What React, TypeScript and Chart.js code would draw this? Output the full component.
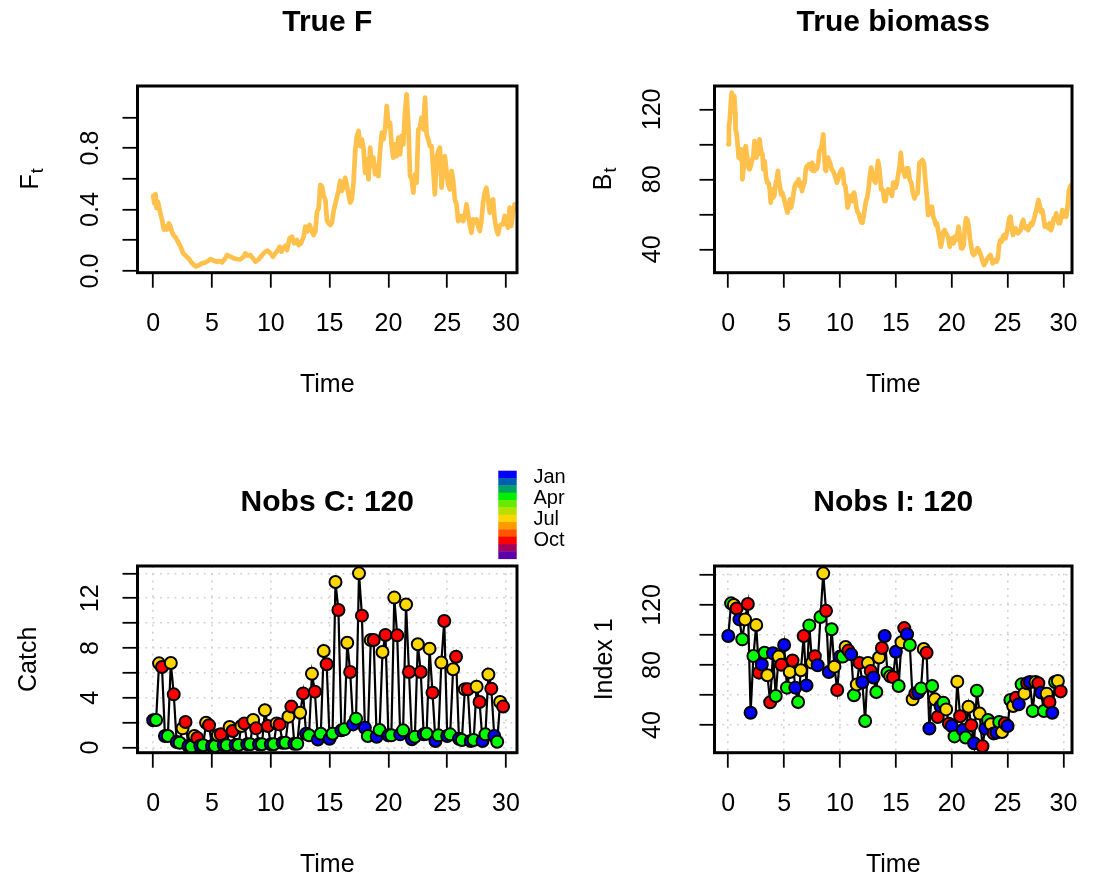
import React, { useEffect, useRef } from "react";
import { Chart, registerables } from "chart.js";

Chart.register(...registerables);

const FONT = "'Liberation Sans', Arial, Helvetica, sans-serif";

// ---------- True F (time, value) ----------
const fTime = [
  0.0, 0.1, 0.2, 0.28, 0.4, 0.57, 0.76, 0.91, 1.05, 1.19, 1.33, 1.47, 1.61, 1.75, 1.9, 2.04, 2.18, 2.32, 2.55, 2.75,
  3.03, 3.31, 3.59, 3.88, 4.16, 4.44, 4.67, 4.87, 5.15, 5.43, 5.66, 5.86, 6.09, 6.28, 6.57, 6.85, 7.13, 7.41, 7.7, 7.84,
  8.04, 8.26, 8.49, 8.69, 8.97, 9.26, 9.54, 9.74, 9.96, 10.19, 10.39, 10.61, 10.76, 10.9, 11.04, 11.24, 11.38, 11.6, 11.8, 12.0,
  12.23, 12.37, 12.57, 12.79, 12.94, 13.08, 13.3, 13.5, 13.64, 13.78, 13.93, 14.07, 14.21, 14.35, 14.5, 14.65, 14.77, 14.92, 15.06, 15.2,
  15.34, 15.48, 15.62, 15.76, 15.9, 16.05, 16.19, 16.33, 16.47, 16.61, 16.75, 16.89, 17.03, 17.18, 17.32, 17.46, 17.6, 17.74, 17.88, 18.02,
  18.16, 18.31, 18.45, 18.59, 18.73, 18.87, 19.01, 19.15, 19.29, 19.44, 19.58, 19.72, 19.86, 20.0, 20.14, 20.28, 20.42, 20.56, 20.71, 20.85,
  20.99, 21.13, 21.27, 21.41, 21.55, 21.69, 21.84, 21.98, 22.12, 22.26, 22.4, 22.54, 22.68, 22.82, 22.97, 23.11, 23.25, 23.39, 23.53, 23.67,
  23.81, 23.95, 24.1, 24.24, 24.38, 24.52, 24.66, 24.8, 24.94, 25.08, 25.23, 25.37, 25.51, 25.65, 25.79, 25.93, 26.07, 26.21, 26.36, 26.5,
  26.64, 26.78, 26.92, 27.06, 27.2, 27.34, 27.49, 27.63, 27.77, 27.91, 28.05, 28.19, 28.33, 28.47, 28.62, 28.76, 28.9, 29.04, 29.18, 29.32,
  29.46, 29.6, 29.75, 29.89, 30.03, 30.17, 30.31, 30.45, 30.59, 30.73,
];
const fValue = [
  0.49, 0.44, 0.5, 0.41, 0.45, 0.39, 0.33, 0.27, 0.29, 0.27, 0.31, 0.29, 0.25, 0.23, 0.22, 0.2, 0.18, 0.16, 0.115, 0.1,
  0.08, 0.05, 0.03, 0.037, 0.05, 0.056, 0.065, 0.078, 0.067, 0.061, 0.065, 0.056, 0.078, 0.104, 0.093, 0.082, 0.078, 0.076, 0.093, 0.115,
  0.1, 0.104, 0.082, 0.061, 0.076, 0.104, 0.126, 0.132, 0.115, 0.093, 0.115, 0.137, 0.158, 0.126, 0.147, 0.165, 0.137, 0.213, 0.223, 0.18,
  0.202, 0.169, 0.18, 0.223, 0.289, 0.256, 0.3, 0.256, 0.234, 0.256, 0.386, 0.408, 0.56, 0.55, 0.49, 0.46, 0.33, 0.31, 0.3, 0.315,
  0.39, 0.434, 0.48, 0.521, 0.586, 0.521, 0.564, 0.607, 0.553, 0.499, 0.445, 0.466, 0.575, 0.781, 0.879, 0.911, 0.813, 0.857, 0.803, 0.64,
  0.727, 0.597, 0.803, 0.683, 0.738, 0.629, 0.683, 0.618, 0.781, 0.9, 0.857, 0.922, 1.074, 0.944, 0.965, 0.813, 0.738, 0.824, 0.748, 0.868,
  0.759, 0.879, 0.824, 1.03, 1.15, 0.965, 0.618, 0.597, 0.51, 0.629, 0.575, 0.922, 0.933, 0.998, 0.922, 1.128, 0.889, 0.857, 0.813, 0.813,
  0.662, 0.499, 0.738, 0.781, 0.803, 0.542, 0.662, 0.748, 0.651, 0.564, 0.531, 0.651, 0.586, 0.466, 0.434, 0.325, 0.336, 0.358, 0.325, 0.358,
  0.434, 0.369, 0.304, 0.249, 0.336, 0.315, 0.336, 0.293, 0.26, 0.325, 0.445, 0.51, 0.542, 0.466, 0.38, 0.456, 0.466, 0.336, 0.271, 0.239,
  0.293, 0.304, 0.304, 0.358, 0.315, 0.282, 0.412, 0.293, 0.38, 0.434,
];

// ---------- True biomass (time, value) ----------
const bTime = [
  0.0, 0.06, 0.14, 0.23, 0.31, 0.4, 0.48, 0.54, 0.62, 0.65, 0.76, 0.85, 0.93, 1.05, 1.13, 1.22, 1.27, 1.39, 1.47, 1.56,
  1.64, 1.73, 1.81, 1.9, 2.01, 2.12, 2.24, 2.35, 2.44, 2.52, 2.61, 2.69, 2.8, 2.89, 2.97, 3.06, 3.14, 3.26, 3.37, 3.48,
  3.6, 3.71, 3.8, 3.91, 3.99, 4.11, 4.22, 4.33, 4.45, 4.53, 4.62, 4.73, 4.84, 4.96, 5.07, 5.18, 5.3, 5.41, 5.52, 5.61,
  5.72, 5.81, 5.95, 6.09, 6.18, 6.29, 6.37, 6.49, 6.6, 6.71, 6.83, 6.94, 7.03, 7.11, 7.22, 7.34, 7.42, 7.51, 7.59, 7.71,
  7.79, 7.88, 7.96, 8.05, 8.16, 8.27, 8.39, 8.5, 8.58, 8.67, 8.75, 8.84, 8.92, 9.04, 9.15, 9.26, 9.38, 9.49, 9.6, 9.72,
  9.83, 9.94, 10.06, 10.17, 10.28, 10.37, 10.48, 10.57, 10.68, 10.76, 10.85, 10.93, 11.02, 11.1, 11.19, 11.27, 11.39, 11.47, 11.59, 11.7,
  11.81, 11.93, 12.01, 12.1, 12.21, 12.32, 12.44, 12.55, 12.66, 12.78, 12.89, 12.97, 13.09, 13.17, 13.29, 13.4, 13.51, 13.6, 13.68, 13.8,
  13.88, 13.97, 14.08, 14.19, 14.31, 14.42, 14.53, 14.65, 14.76, 14.87, 14.99, 15.1, 15.21, 15.33, 15.44, 15.57, 15.68, 15.82, 15.96, 16.1,
  16.25, 16.39, 16.53, 16.67, 16.81, 16.95, 17.1, 17.24, 17.38, 17.52, 17.66, 17.78, 17.89, 18.0, 18.12, 18.23, 18.34, 18.46, 18.57, 18.68,
  18.8, 18.91, 19.02, 19.14, 19.25, 19.36, 19.48, 19.59, 19.7, 19.82, 19.93, 20.05, 20.16, 20.27, 20.38, 20.5, 20.61, 20.73, 20.84, 20.95,
  21.07, 21.18, 21.29, 21.41, 21.52, 21.63, 21.75, 21.86, 21.97, 22.09, 22.2, 22.31, 22.43, 22.54, 22.65, 22.77, 22.88, 22.99, 23.11, 23.22,
  23.33, 23.45, 23.56, 23.67, 23.79, 23.9, 24.01, 24.13, 24.24, 24.36, 24.47, 24.58, 24.7, 24.81, 24.92, 25.04, 25.15, 25.26, 25.38, 25.49,
  25.6, 25.72, 25.83, 25.94, 26.06, 26.17, 26.28, 26.4, 26.51, 26.62, 26.74, 26.85, 26.96, 27.08, 27.19, 27.3, 27.42, 27.53, 27.64, 27.76,
  27.87, 27.98, 28.1, 28.21, 28.32, 28.44, 28.55, 28.66, 28.78, 28.89, 29.0, 29.12, 29.23, 29.35, 29.46, 29.57, 29.69, 29.8, 29.91, 30.03,
  30.14, 30.25, 30.37, 30.48, 30.59, 30.71,
];
const bValue = [
  100, 110.5, 114.3, 123.8, 129.5, 122.9, 119, 127.6, 118.1, 108.6, 105.7, 99, 92.4, 97.1, 91.4, 95.2, 80, 87.6, 96.2, 99,
  95.2, 91.4, 86.7, 85.7, 87.6, 90.5, 93.3, 101.9, 95.2, 92.4, 95.2, 94.3, 102.9, 98.1, 95.2, 94.3, 85.7, 90.5, 81.9, 78.1,
  78.1, 74.3, 66.7, 74.3, 69.5, 70.5, 76.2, 80, 84.8, 79, 76.2, 71.4, 72.4, 69.5, 66.7, 63.8, 61, 64.8, 68.6, 63.8,
  66.7, 70.5, 76.2, 78.1, 77.1, 80, 76.2, 78.1, 73.3, 76.2, 78.1, 85.7, 87.6, 87.6, 88.6, 86.7, 85.7, 89.5, 84.8, 84.8,
  87.6, 85.7, 86.7, 89.5, 96.2, 97.1, 100, 105.7, 96.2, 85.7, 84.8, 89.5, 92.4, 90.5, 88.6, 85.7, 84.8, 82.9, 81, 78.1,
  80, 82.9, 84.8, 85.7, 82.9, 77.1, 76.2, 71.4, 63.8, 65.7, 69.5, 70.5, 69.5, 67.6, 71.4, 72.4, 67.6, 63.8, 61, 60,
  57.1, 55.2, 55.2, 58.1, 62.9, 67.6, 69.5, 74.3, 81, 86.7, 83.8, 81, 79, 78.1, 82.9, 90.5, 86.7, 81, 74.3, 74.3,
  72.4, 67.6, 67.6, 73.3, 74.3, 72.4, 73.3, 70.5, 78.1, 78.1, 75.2, 78.1, 82.9, 87.6, 95.2, 86.3, 84.4, 81.5, 86.3, 86.3,
  79.6, 77.7, 72, 69.1, 72, 72, 89.1, 90.1, 91, 89.1, 77.7, 70.1, 59.6, 64.4, 60.6, 64.4, 58.7, 56.8, 53.9, 54.9,
  50.1, 46.3, 41.5, 45.3, 50.1, 51, 49.1, 48.2, 46.3, 41.5, 45.3, 46.3, 43.4, 47.2, 45.3, 48.2, 53, 47.2, 40.6, 40.6,
  42.5, 53, 57.7, 56.8, 53, 46.3, 41.5, 37.7, 36.8, 37.7, 39.6, 40.6, 39.6, 37.7, 35.8, 33, 31, 32, 33.9, 34.9,
  35.8, 36.8, 34.9, 32, 33, 33.9, 33, 34.9, 42.5, 45.3, 44.4, 47.2, 48.2, 46.3, 49.1, 53, 57.7, 58.7, 52, 48.2,
  51, 52, 50.1, 49.1, 50.1, 51, 54.9, 56.8, 53, 52, 53, 51, 53, 54.9, 53.9, 55.8, 58.7, 61.5, 64.4, 68.2,
  65.3, 61.5, 62.5, 58.7, 53, 53, 53.9, 52, 54.9, 51, 53, 57.7, 56.8, 60.6, 56.8, 54.9, 54.9, 58.7, 62.5, 58.7,
  59.6, 58.7, 64.4, 73, 75.8, 76.8,
];

// ---------- Quarterly observations ----------
const years = [0, 1, 2, 3, 4, 5, 6, 7, 8, 9, 10, 11, 12, 13, 14, 15, 16, 17, 18, 19, 20, 21, 22, 23, 24, 25, 26, 27, 28, 29];
const quarterOffsets = [0, 0.25, 0.5, 0.75];

const catchJan = [2.2, 0.94, 0.45, 0.13, 0.16, 0.13, 0.19, 0.21, 0.27, 0.27, 0.27, 0.4, 0.32, 1.12, 0.65, 0.72, 1.39, 1.87, 1.6, 0.88, 0.99, 1.07, 0.67, 1.07, 0.54, 0.94, 0.72, 0.54, 0.54, 0.94];
const catchApr = [2.22, 0.94, 0.4, 0.08, 0.19, 0.13, 0.19, 0.21, 0.27, 0.27, 0.27, 0.4, 0.32, 1.0, 1.12, 1.12, 1.47, 2.33, 0.94, 1.42, 0.99, 1.39, 0.88, 1.12, 0.99, 1.07, 0.62, 0.62, 1.07, 0.48];
const catchJul = [6.77, 6.8, 1.55, 0.94, 2.0, 1.0, 1.66, 1.74, 2.22, 3.0, 1.95, 2.49, 2.81, 5.94, 7.76, 13.3, 8.43, 14.0, 8.65, 7.68, 12.05, 11.5, 8.3, 7.95, 6.83, 6.3, 4.69, 4.9, 5.87, 3.67];
const catchOct = [6.48, 4.28, 2.06, 0.78, 1.8, 1.07, 1.34, 1.95, 1.55, 1.74, 1.87, 3.3, 4.36, 4.5, 6.7, 11.05, 6.08, 10.6, 8.65, 9.05, 9.02, 6.08, 6.08, 4.42, 10.17, 7.3, 4.69, 3.67, 4.74, 3.3];

const indexJan = [99.3, 110.4, 48.2, 80.4, 87.8, 93.3, 64.9, 66.4, 79.8, 75.3, 85.6, 87.1, 68.5, 71.7, 99.3, 88.8, 100.5, 61.6, 37.7, 52.5, 39.3, 36.7, 27.8, 37.6, 34.9, 39.3, 53.8, 68.7, 61.6, 48.2];
const indexApr = [121.1, 97.1, 86, 88.2, 59.3, 64.9, 55.3, 106.4, 112, 103.8, 85.6, 59.8, 42.7, 62, 74.9, 66, 93.3, 64.3, 66, 54.8, 32.4, 31.7, 62.8, 43.3, 42, 56.7, 67.1, 49.3, 49.3, 68.7];
const indexJul = [120, 110.4, 106.7, 73.2, 85.6, 75.3, 76.5, 81.6, 141.1, 78.9, 92, 67, 81.3, 85, 72.5, 95.2, 57.1, 90.7, 57.1, 50.4, 68.9, 52.2, 47.6, 40.5, 35.3, 52.7, 60.9, 68.7, 60.9, 69.3];
const indexOct = [117.7, 120.7, 74.9, 55.2, 80.2, 83, 99.3, 85.8, 116.1, 63.3, 89.6, 81.4, 76, 91.3, 71.9, 104.6, 61.1, 88.2, 45.3, 40.9, 45.8, 39.9, 25.8, 34.4, 41.1, 58.2, 67.8, 67.8, 55.3, 62.4];

const seasonColors = ["#0000FF", "#00FF00", "#FFD700", "#FF0000"];
const monthColors = [
  "#0000FF", "#005FB0", "#00A262", "#00F000", "#66EA00", "#B6E000",
  "#FFD500", "#FF9A00", "#FF5500", "#FF0000", "#A8005A", "#5A00AA",
];
const legendLabels = ["Jan", "Apr", "Jul", "Oct"];

// ---------- Axis ticks ----------
const timeTicks = [0, 5, 10, 15, 20, 25, 30];
const fTicks = [0, 0.2, 0.4, 0.6, 0.8, 1.0];
const fTickLabels = ["0.0", "", "0.4", "", "0.8", ""];
const bTicks = [40, 60, 80, 100, 120];
const bTickLabels = ["40", "", "80", "", "120"];
const catchTicks = [0, 2, 4, 6, 8, 10, 12, 14];
const catchTickLabels = ["0", "", "4", "", "8", "", "12", ""];
const indexTicks = [40, 60, 80, 100, 120, 140];
const indexTickLabels = ["40", "", "80", "", "120", ""];

// ---------- helpers ----------
function seasonal(series: number[][]) {
  const pts: { x: number; y: number }[] = [];
  const cols: string[] = [];
  years.forEach((yr, i) => {
    series.forEach((arr, s) => {
      pts.push({ x: yr + quarterOffsets[s], y: arr[i] });
      cols.push(seasonColors[s]);
    });
  });
  return { pts, cols };
}

function measureWidest(texts: string[], size: number) {
  const c = document.createElement("canvas").getContext("2d")!;
  c.font = `${size}px ${FONT}`;
  return Math.max(...texts.map((t) => c.measureText(t).width));
}

const boxPlugin = {
  id: "rbox",
  afterDatasetsDraw(chart: any) {
    const { ctx, chartArea: a } = chart;
    ctx.save();
    ctx.strokeStyle = "#000";
    ctx.lineWidth = 3;
    ctx.strokeRect(a.left, a.top, a.right - a.left, a.bottom - a.top);
    ctx.restore();
  },
};

function subscriptTitle(main: string, sub: string, cx: number) {
  return {
    id: "subscriptTitle",
    afterDraw(chart: any) {
      const { ctx, chartArea } = chart;
      const cy = (chartArea.top + chartArea.bottom) / 2;
      ctx.save();
      ctx.translate(cx, cy);
      ctx.rotate(-Math.PI / 2);
      ctx.fillStyle = "#000";
      ctx.textBaseline = "alphabetic";
      ctx.textAlign = "left";
      ctx.font = `25px ${FONT}`;
      const w1 = ctx.measureText(main).width;
      ctx.font = `18px ${FONT}`;
      const w2 = ctx.measureText(sub).width;
      const x0 = -(w1 + w2) / 2;
      ctx.font = `25px ${FONT}`;
      ctx.fillText(main, x0, 9);
      ctx.font = `18px ${FONT}`;
      ctx.fillText(sub, x0 + w1 + 1, 14);
      ctx.restore();
    },
  };
}

const monthLegend = {
  id: "monthLegend",
  afterDraw(chart: any) {
    const { ctx } = chart;
    const x = 498.3;
    const top = 30.7;
    const w = 18.4;
    const h = 88 / 12;
    ctx.save();
    monthColors.forEach((c, i) => {
      ctx.fillStyle = c;
      ctx.fillRect(x, top + i * h, w, h + 0.4);
    });
    ctx.font = `20px ${FONT}`;
    ctx.fillStyle = "#000";
    ctx.textBaseline = "middle";
    ctx.textAlign = "left";
    legendLabels.forEach((t, k) => ctx.fillText(t, 533.5, 37.3 + k * 21.1));
    ctx.restore();
  },
};

type PanelSpec = {
  left: number;
  top: number;
  width: number;
  height: number;
  area: { l: number; t: number; r: number; b: number };
  title: string;
  titlePadTop: number;
  xMin: number;
  xMax: number;
  yMin: number;
  yMax: number;
  yTicks: number[];
  yTickLabels: string[];
  yLabelOffset: number;
  yTitle?: string;
  yTitlePad: number;
  timeTitlePad: number;
  grid: boolean;
  datasets: any[];
  plugins: any[];
};

function buildConfig(p: PanelSpec) {
  const widest = measureWidest(p.yTickLabels.filter((t) => t), 25);
  const tickLen = 15;
  const yPad = p.yLabelOffset - tickLen - widest / 2;
  const titleLine = 36;
  const gridCommon = {
    color: "#D3D3D3",
    lineWidth: 1.6,
    drawTicks: true,
    tickLength: tickLen,
    tickColor: "#000",
    tickWidth: 1.8,
    tickBorderDash: [],
    drawOnChartArea: p.grid,
  };
  const border = { display: false, dash: [2, 5.3] };
  const tickFont = { family: FONT, size: 25 };
  return {
    type: "scatter",
    data: { datasets: p.datasets },
    options: {
      animation: false,
      responsive: false,
      events: [],
      layout: { padding: { left: 0, top: 0, right: p.width - p.area.r, bottom: 0 } },
      plugins: {
        legend: { display: false },
        tooltip: { enabled: false },
        title: {
          display: true,
          text: p.title,
          fullSize: false,
          color: "#000",
          font: { family: FONT, size: 30, weight: "bold", lineHeight: 1.2 },
          padding: { top: p.titlePadTop, bottom: p.area.t - p.titlePadTop - titleLine },
        },
      },
      scales: {
        x: {
          type: "linear",
          min: p.xMin,
          max: p.xMax,
          afterBuildTicks: (s: any) => {
            s.ticks = timeTicks.map((v) => ({ value: v }));
          },
          afterFit: (s: any) => {
            s.height = p.height - p.area.b;
          },
          ticks: {
            autoSkip: false,
            maxRotation: 0,
            minRotation: 0,
            padding: 21,
            color: "#000",
            font: tickFont,
            callback: (v: any) => String(v),
          },
          grid: gridCommon,
          border,
          title: {
            display: true,
            text: "Time",
            color: "#000",
            font: { family: FONT, size: 25, lineHeight: 1.2 },
            padding: { top: 0, bottom: p.timeTitlePad },
          },
        },
        y: {
          type: "linear",
          min: p.yMin,
          max: p.yMax,
          afterBuildTicks: (s: any) => {
            s.ticks = p.yTicks.map((v) => ({ value: v }));
          },
          afterFit: (s: any) => {
            s.width = p.area.l;
          },
          ticks: {
            autoSkip: false,
            minRotation: 90,
            maxRotation: 90,
            crossAlign: "center",
            padding: yPad,
            color: "#000",
            font: tickFont,
            callback: (_v: any, i: number) => p.yTickLabels[i],
          },
          grid: gridCommon,
          border,
          title: {
            display: !!p.yTitle,
            text: p.yTitle || "",
            color: "#000",
            font: { family: FONT, size: 25, lineHeight: 1.2 },
            padding: { top: p.yTitlePad, bottom: 0 },
          },
        },
      },
    },
    plugins: [boxPlugin, ...p.plugins],
  };
}

const lineStyle = {
  showLine: true,
  borderColor: "rgba(255,165,0,0.7)",
  borderWidth: 4.7,
  pointRadius: 0,
  tension: 0,
  borderJoinStyle: "round",
  borderCapStyle: "round",
  fill: false,
};

function pointStyle(pts: any[], cols: string[]) {
  return {
    data: pts,
    showLine: true,
    borderColor: "#000",
    borderWidth: 2.2,
    tension: 0,
    pointRadius: 6,
    pointBorderWidth: 2,
    pointBorderColor: "#000",
    pointBackgroundColor: cols,
    fill: false,
  };
}

function Panel({ spec }: { spec: PanelSpec }) {
  const ref = useRef<HTMLCanvasElement | null>(null);
  useEffect(() => {
    if (!ref.current) return;
    const chart = new Chart(ref.current, buildConfig(spec) as any);
    return () => chart.destroy();
  }, [spec]);
  return (
    <canvas
      ref={ref}
      width={spec.width}
      height={spec.height}
      style={{ position: "absolute", left: spec.left, top: spec.top, width: spec.width, height: spec.height }}
    />
  );
}

const catchObs = seasonal([catchJan, catchApr, catchJul, catchOct]);
const indexObs = seasonal([indexJan, indexApr, indexJul, indexOct]);

const panels: PanelSpec[] = [
  {
    left: 0, top: 0, width: 550, height: 440,
    area: { l: 137.5, t: 86, r: 517, b: 272.7 },
    title: "True F", titlePadTop: 5,
    xMin: -1.333, xMax: 30.934, yMin: -0.011, yMax: 1.204,
    yTicks: fTicks, yTickLabels: fTickLabels, yLabelOffset: 46.5,
    yTitlePad: 14, timeTitlePad: 40, grid: false,
    datasets: [{ ...lineStyle, data: fTime.map((t, i) => ({ x: t, y: fValue[i] })) }],
    plugins: [subscriptTitle("F", "t", 29)],
  },
  {
    left: 550, top: 0, width: 549, height: 440,
    area: { l: 164.5, t: 86, r: 540.7, b: 272.7 },
    title: "True biomass", titlePadTop: 5,
    xMin: -1.233, xMax: 30.766, yMin: 26.65, yMax: 133.33,
    yTicks: bTicks, yTickLabels: bTickLabels, yLabelOffset: 61.5,
    yTitlePad: 40, timeTitlePad: 40, grid: false,
    datasets: [{ ...lineStyle, data: bTime.map((t, i) => ({ x: t, y: bValue[i] })) }],
    plugins: [subscriptTitle("B", "t", 52)],
  },
  {
    left: 0, top: 440, width: 585, height: 439,
    area: { l: 137.5, t: 126, r: 517, b: 312.7 },
    title: "Nobs C: 120", titlePadTop: 45,
    xMin: -1.333, xMax: 30.934, yMin: -0.404, yMax: 14.589,
    yTicks: catchTicks, yTickLabels: catchTickLabels, yLabelOffset: 46.5,
    yTitle: "Catch", yTitlePad: 14, timeTitlePad: -1, grid: true,
    datasets: [pointStyle(catchObs.pts, catchObs.cols)],
    plugins: [monthLegend],
  },
  {
    left: 550, top: 440, width: 549, height: 439,
    area: { l: 164.5, t: 126, r: 540.7, b: 312.7 },
    title: "Nobs I: 120", titlePadTop: 45,
    xMin: -1.233, xMax: 30.766, yMin: 21.53, yMax: 146,
    yTicks: indexTicks, yTickLabels: indexTickLabels, yLabelOffset: 61.5,
    yTitle: "Index 1", yTitlePad: 40, timeTitlePad: -1, grid: true,
    datasets: [pointStyle(indexObs.pts, indexObs.cols)],
    plugins: [],
  },
];

export default function App() {
  return (
    <div style={{ position: "absolute", left: 0, top: 0, width: 1099, height: 879, background: "#fff" }}>
      {panels.map((p, i) => (
        <Panel key={i} spec={p} />
      ))}
    </div>
  );
}
